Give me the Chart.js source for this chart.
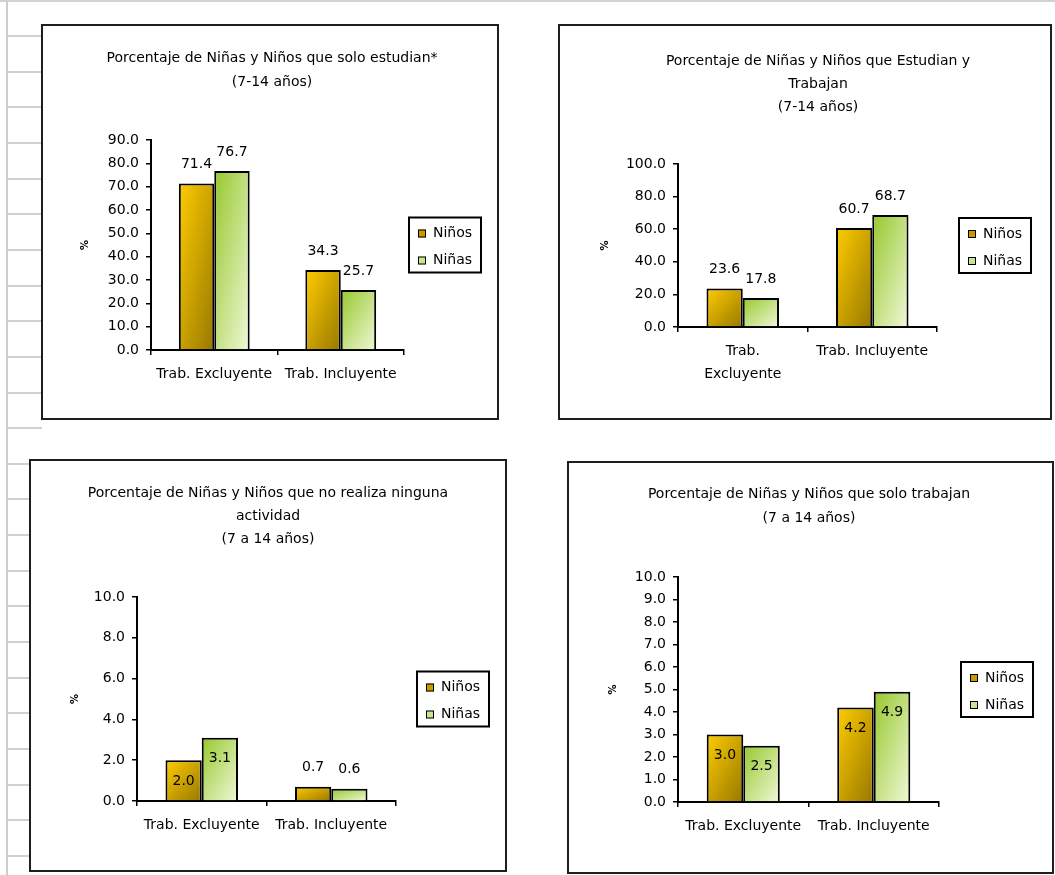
<!DOCTYPE html>
<html lang="es">
<head>
<meta charset="utf-8">
<title>Niñas y Niños de 7 a 14 años</title>
<script src="https://cdn.jsdelivr.net/npm/chart.js@4.4.1/dist/chart.umd.min.js"></script>
<style>
  html, body { margin: 0; padding: 0; background: #fff; }
  body { position: relative; width: 1055px; height: 875px; overflow: hidden; }
  /* spreadsheet grid behind the charts */
  .hoja-top { position: absolute; left: 0; top: 0; width: 1055px; height: 2px; background: #d2d2d2; }
  .hoja-col { position: absolute; left: 6px; top: 0; width: 2px; height: 875px; background: #cdcdcd; }
  .hoja-fila { position: absolute; left: 6px; width: 36px; height: 2px; background: #d0d0d0; }
  .caja { position: absolute; box-sizing: border-box; border: 2px solid #1e1e1e; background: #fff; }
  .caja canvas { display: block; }
</style>
</head>
<body>
<div class="hoja-top"></div>
<div class="hoja-col"></div>
<div id="filas"></div>

<div class="caja" style="left:41px; top:24px; width:458px; height:396px;">
  <canvas id="soloEstudian" width="454" height="392"></canvas>
</div>
<div class="caja" style="left:558px; top:24px; width:494px; height:396px;">
  <canvas id="estudianTrabajan" width="490" height="392"></canvas>
</div>
<div class="caja" style="left:29px; top:459px; width:478px; height:413px;">
  <canvas id="ninguna" width="474" height="409"></canvas>
</div>
<div class="caja" style="left:567px; top:461px; width:487px; height:413px;">
  <canvas id="soloTrabajan" width="483" height="409"></canvas>
</div>

<script>
const categorias = ['Trab. Excluyente', 'Trab. Incluyente'];
const categoriasPartidas = [['Trab.', 'Excluyente'], 'Trab. Incluyente'];
const series = ['Niños', 'Niñas'];

// solo estudian
const soloEstudianNinos = [71.4, 34.3];
const soloEstudianNinas = [76.7, 25.7];
const ticksSoloEstudian = [0, 10, 20, 30, 40, 50, 60, 70, 80, 90];

// estudian y trabajan
const ambosNinos = [23.6, 60.7];
const ambosNinas = [17.8, 68.7];
const ticksAmbos = [0, 20, 40, 60, 80, 100];

// ninguna actividad
const ningunaNinos = [2.0, 0.7];
const ningunaNinas = [3.1, 0.6];
const ticksNinguna = [0, 2, 4, 6, 8, 10];

// solo trabajan
const soloTrabajanNinos = [3.0, 4.2];
const soloTrabajanNinas = [2.5, 4.9];
const ticksSoloTrabajan = [0, 1, 2, 3, 4, 5, 6, 7, 8, 9, 10];

const FAMILY = '"DejaVu Sans", Verdana, sans-serif';
const FONT = '14px ' + FAMILY;
const CAT_PCT = 0.56;

Chart.defaults.font.family = FAMILY;
Chart.defaults.font.size = 14;
Chart.defaults.color = '#000';

// row lines of the sheet on the left margin
const filas = document.getElementById('filas');
for (let k = 0; k < 24; k++) {
  const f = document.createElement('div');
  f.className = 'hoja-fila';
  f.style.top = Math.round(35 + k * 35.65) + 'px';
  filas.appendChild(f);
}

// corner-to-corner fill stretched over each bar, like the old spreadsheet shading
function diagonal(from, to) {
  return (c) => {
    const chart = c.chart;
    if (c.type !== 'data' || !chart.chartArea) return from;
    const xs = chart.scales.x, ys = chart.scales.y;
    const cat = xs.width / chart.data.labels.length;
    const bw = cat * CAT_PCT / chart.data.datasets.length;
    const left = xs.getPixelForValue(c.dataIndex) - cat * CAT_PCT / 2 + c.datasetIndex * bw;
    const top = ys.getPixelForValue(c.raw);
    const bh = Math.max(ys.getPixelForValue(0) - top, 1);
    const a = 1 / (2 * bw), b = 1 / (2 * bh);
    const n = a * a + b * b;
    const g = chart.ctx.createLinearGradient(left, top, left + a / n, top + b / n);
    g.addColorStop(0, from);
    g.addColorStop(1, to);
    return g;
  };
}

// title, boxed legend and value labels
const panel = {
  id: 'panel',
  afterDatasetsDraw(chart, args, opts) {
    const ctx = chart.ctx;
    ctx.save();
    ctx.font = FONT;
    ctx.fillStyle = '#000';
    ctx.textAlign = 'center';
    ctx.textBaseline = 'middle';
    chart.data.datasets.forEach((ds, di) => {
      chart.getDatasetMeta(di).data.forEach((bar, i) => {
        const dy = opts.inside[i] ? 21 : -19;
        ctx.fillText(ds.data[i].toFixed(1), bar.x, bar.y + dy);
      });
    });
    ctx.restore();
  },
  afterDraw(chart, args, opts) {
    const ctx = chart.ctx;
    const area = chart.chartArea;
    ctx.save();
    ctx.font = FONT;
    ctx.fillStyle = '#000';
    ctx.textAlign = 'center';
    ctx.textBaseline = 'middle';
    opts.title.forEach((line, i) => ctx.fillText(line, opts.titleX, opts.titleY + i * opts.titleLead));

    const w = 72, h = 55;
    const left = area.right + opts.legendGap;
    const top = (area.top + area.bottom) / 2 - h / 2;
    ctx.lineWidth = 2;
    ctx.strokeStyle = '#000';
    ctx.strokeRect(left, top, w, h);
    ctx.textAlign = 'left';
    chart.data.datasets.forEach((ds, di) => {
      const y = top + 16 + di * 27;
      ctx.fillStyle = ds.legendColor;
      ctx.fillRect(left + 9, y - 4, 8, 8);
      ctx.lineWidth = 1;
      ctx.strokeRect(left + 9.5, y - 3.5, 7, 7);
      ctx.fillStyle = '#000';
      ctx.fillText(ds.label, left + 24, y);
    });
    ctx.restore();
  }
};

function grafico(id, g) {
  const canvas = document.getElementById(id);
  return new Chart(canvas, {
    type: 'bar',
    data: {
      labels: g.labels,
      datasets: [
        {
          label: series[0], data: g.ninos,
          backgroundColor: diagonal('#FFCC00', '#977800'), legendColor: '#C79B00',
          borderColor: '#000', borderWidth: 2,
          categoryPercentage: CAT_PCT, barPercentage: 1
        },
        {
          label: series[1], data: g.ninas,
          backgroundColor: diagonal('#96C82C', '#F0F8D8'), legendColor: '#C8E592',
          borderColor: '#000', borderWidth: 2,
          categoryPercentage: CAT_PCT, barPercentage: 1
        }
      ]
    },
    options: {
      responsive: false,
      animation: false,
      events: [],
      layout: { padding: { left: 30, right: canvas.width - g.right, top: g.top, bottom: 0 } },
      scales: {
        x: {
          offset: true,
          grid: { offset: true, drawOnChartArea: false, tickLength: 5, color: '#000', lineWidth: 1.5 },
          border: { color: '#000', width: 2 },
          ticks: { maxRotation: 0, autoSkip: false, padding: 8, font: { size: 14, lineHeight: '23px' } },
          afterFit: (s) => { s.height = canvas.height - g.bottom; }
        },
        y: {
          min: 0,
          max: g.ticks[g.ticks.length - 1],
          afterBuildTicks: (s) => { s.ticks = g.ticks.map((v) => ({ value: v })); },
          grid: { drawOnChartArea: false, tickLength: 5, color: '#000', lineWidth: 1.5 },
          border: { color: '#000', width: 2 },
          ticks: { padding: 7, font: { size: 14 }, callback: (v) => Number(v).toFixed(1) },
          title: { display: true, text: '%', font: { size: 10, weight: 'bold' }, padding: { top: g.pct - 36, bottom: 0 } },
          afterFit: (s) => { s.width = g.left - 30; }
        }
      },
      plugins: {
        legend: { display: false },
        tooltip: { enabled: false },
        panel: {
          title: g.title, titleX: g.titleX, titleY: g.titleY, titleLead: g.titleLead,
          legendGap: g.legendGap, inside: g.inside
        }
      }
    },
    plugins: [panel]
  });
}

grafico('soloEstudian', {
  labels: categorias, ninos: soloEstudianNinos, ninas: soloEstudianNinas, ticks: ticksSoloEstudian,
  title: ['Porcentaje de Niñas y Niños que solo estudian*', '(7-14 años)'],
  titleX: 229, titleY: 32, titleLead: 24,
  left: 108, right: 361, top: 114, bottom: 324, pct: 42, legendGap: 5, inside: [false, false]
});

grafico('estudianTrabajan', {
  labels: categoriasPartidas, ninos: ambosNinos, ninas: ambosNinas, ticks: ticksAmbos,
  title: ['Porcentaje de Niñas y Niños que Estudian y', 'Trabajan', '(7-14 años)'],
  titleX: 258, titleY: 35, titleLead: 23,
  left: 118, right: 377, top: 138, bottom: 301, pct: 45, legendGap: 22, inside: [false, false]
});

grafico('ninguna', {
  labels: categorias, ninos: ningunaNinos, ninas: ningunaNinas, ticks: ticksNinguna,
  title: ['Porcentaje de Niñas y Niños que no realiza ninguna', 'actividad', '(7 a 14 años)'],
  titleX: 237, titleY: 32, titleLead: 23,
  left: 106, right: 365, top: 136, bottom: 340, pct: 44, legendGap: 21, inside: [true, false]
});

grafico('soloTrabajan', {
  labels: categorias, ninos: soloTrabajanNinos, ninas: soloTrabajanNinas, ticks: ticksSoloTrabajan,
  title: ['Porcentaje de Niñas y Niños que solo trabajan', '(7 a 14 años)'],
  titleX: 240, titleY: 31, titleLead: 24,
  left: 109, right: 370, top: 114, bottom: 339, pct: 44, legendGap: 22, inside: [true, true]
});
</script>
</body>
</html>
